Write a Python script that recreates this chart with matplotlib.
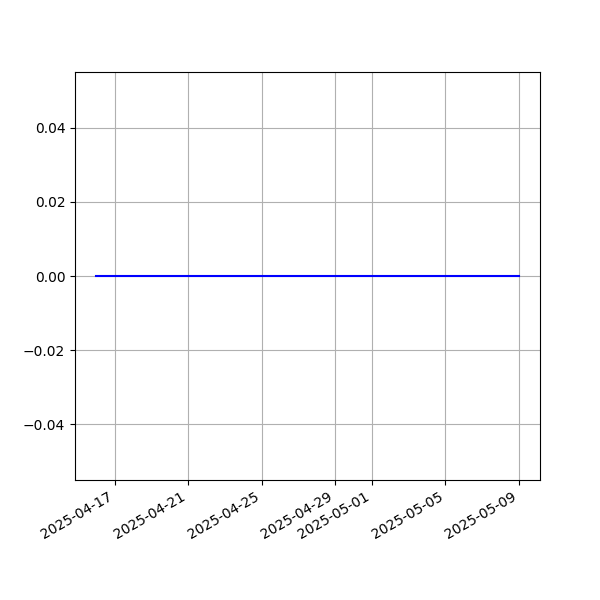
import pandas as pd
import matplotlib
matplotlib.use('Agg')
import matplotlib.pyplot as plt

# daily dates, all values zero
dates = pd.date_range('2025-04-16', '2025-05-09', freq='D')
values = [0.0] * len(dates)

fig, ax = plt.subplots(figsize=(6, 6), dpi=100)
ax.plot(dates, values, color='blue')
ax.grid(True)
fig.autofmt_xdate()

fig.savefig('out.png')
